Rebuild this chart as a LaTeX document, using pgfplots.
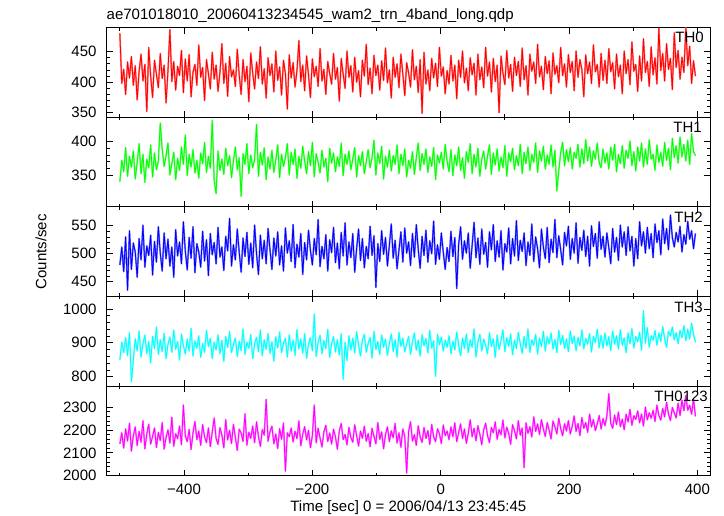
\documentclass[border=0pt]{standalone}
\usepackage{pgfplots}
\pgfplotsset{compat=1.18}
\usepackage{pgfplotstable}
\usepackage{fontspec}
\setmainfont{Liberation Sans}

\definecolor{cR}{RGB}{255,0,0}
\definecolor{cG}{RGB}{0,255,0}
\definecolor{cB}{RGB}{0,0,255}
\definecolor{cC}{RGB}{0,255,255}
\definecolor{cM}{RGB}{255,0,255}
\definecolor{lR}{RGB}{255,125,125}
\definecolor{lG}{RGB}{125,255,125}
\definecolor{lB}{RGB}{120,120,255}
\definecolor{lC}{RGB}{130,255,255}
\definecolor{lM}{RGB}{255,125,255}

\pgfplotstableread{
t a b c d e
-500 480 340 480 850 2140
-497 398 372 512 902 2188
-494 421 355 468 871 2121
-491 380 391 530 915 2205
-488 433 348 435 862 2152
-485 407 378 541 930 2230
-482 442 362 472 785 2108
-479 395 386 519 847 2176
-476 427 344 503 912 2214
-473 371 369 458 876 2132
-470 418 397 527 935 2195
-467 446 352 489 858 2147
-464 402 381 551 897 2241
-461 429 339 476 923 2118
-458 352 374 514 868 2183
-455 457 361 497 904 2226
-452 410 395 533 841 2139
-449 375 347 462 919 2172
-446 436 383 522 883 2209
-443 413 358 485 947 2124
-440 391 371 548 866 2190
-437 447 428 501 909 2154
-434 406 388 469 874 2233
-431 428 363 537 928 2117
-428 366 379 491 853 2168
-425 419 398 526 896 2201
-422 486 350 478 917 2143
-419 401 367 512 872 2257
-416 434 384 458 938 2129
-413 387 343 543 881 2184
-410 426 375 496 904 2162
-407 411 357 521 849 2218
-404 452 392 482 926 2136
-401 383 366 557 892 2310
-398 438 410 505 867 2175
-395 402 349 471 911 2149
-392 445 381 529 876 2203
-389 376 362 492 943 2115
-386 417 388 548 861 2187
-383 429 353 466 906 2238
-380 395 372 518 884 2158
-377 461 345 503 921 2196
-374 408 383 476 857 2133
-371 424 367 540 898 2224
-368 370 399 487 872 2171
-365 437 354 525 937 2145
-362 414 378 461 889 2209
-359 389 360 536 913 2128
-356 449 432 498 854 2192
-353 405 341 520 902 2253
-350 428 322 482 879 2163
-347 385 386 547 924 2137
-344 416 357 494 868 2211
-341 463 374 512 907 2178
-338 398 351 470 845 2122
-335 431 390 531 919 2246
-332 377 364 505 886 2157
-329 442 379 563 933 2199
-326 409 346 478 871 2141
-323 420 371 516 896 2225
-320 393 392 489 914 2168
-317 454 358 544 859 2111
-314 412 376 503 905 2204
-311 380 318 467 877 2187
-308 437 382 528 941 2150
-305 401 366 495 866 2272
-302 426 397 538 902 2134
-299 368 352 481 884 2191
-296 448 380 519 925 2163
-293 415 361 475 853 2218
-290 389 373 551 897 2145
-287 433 426 500 916 2236
-284 406 348 463 874 2172
-281 458 384 533 938 2129
-278 397 365 491 862 2202
-275 422 391 524 909 2178
-272 374 343 482 881 2335
-269 440 377 545 927 2151
-266 411 359 507 869 2194
-263 430 387 472 903 2217
-260 384 354 528 846 2140
-257 451 372 496 918 2183
-254 403 395 539 885 2119
-251 425 346 480 932 2206
-248 379 381 514 871 2160
-245 436 363 469 899 2231
-242 414 376 546 913 2020
-239 356 397 501 858 2188
-236 445 350 523 924 2171
-233 407 384 486 876 2209
-230 432 366 552 908 2148
-227 392 389 475 863 2195
-224 419 345 517 939 2162
-221 468 378 494 882 2240
-218 401 360 536 911 2131
-215 428 393 463 869 2182
-212 386 371 520 927 2215
-209 443 352 489 854 2157
-206 412 385 542 896 2199
-203 375 364 506 915 2123
-200 438 399 480 877 2176
-197 409 347 527 985 2310
-194 426 382 498 860 2144
-191 393 369 561 901 2208
-188 455 353 477 922 2165
-185 402 387 513 868 2126
-182 421 362 491 907 2193
-179 380 375 534 883 2221
-176 434 340 469 940 2150
-173 414 390 525 857 2187
-170 397 368 502 896 2139
-167 447 383 547 918 2204
-164 405 355 484 873 2170
-161 424 377 519 909 2116
-158 369 363 473 864 2197
-155 439 398 538 927 2229
-152 413 349 496 792 2158
-149 390 381 555 902 2181
-146 451 366 480 848 2135
-143 408 386 521 921 2212
-140 427 358 493 879 2168
-137 384 374 536 914 2147
-134 441 391 467 870 2223
-131 400 347 510 933 2176
-128 419 379 544 893 2130
-125 376 364 488 861 2196
-122 436 385 527 908 2164
-119 410 352 475 925 2217
-116 462 370 513 872 2151
-113 396 388 491 899 2185
-110 423 361 549 916 2127
-107 381 376 497 855 2208
-104 444 402 532 934 2173
-101 411 350 440 880 2140
-98 428 383 518 904 2233
-95 387 367 486 866 2159
-92 435 393 541 923 2192
-89 403 344 499 887 2118
-86 456 378 529 911 2181
-83 399 362 478 863 2214
-80 420 387 515 897 2150
-77 374 356 553 926 2197
-74 441 379 492 875 2166
-71 408 366 524 909 2229
-68 430 395 473 858 2143
-65 391 352 507 931 2188
-62 446 381 539 890 2125
-59 413 364 485 914 2205
-56 378 389 546 873 2172
-53 432 347 501 897 2012
-50 415 372 521 919 2194
-47 392 360 479 866 2237
-44 453 385 536 903 2152
-41 404 351 494 929 2180
-38 426 376 552 878 2133
-35 383 398 508 908 2219
-32 437 357 474 861 2170
-29 349 382 531 924 2146
-26 449 366 497 891 2211
-23 397 389 542 913 2163
-20 420 354 485 870 2198
-17 386 377 523 937 2137
-14 439 363 500 884 2225
-11 407 391 558 906 2171
-8 431 343 481 801 2149
-5 393 380 516 925 2206
-2 457 368 490 894 2184
1 410 384 537 917 2141
4 425 359 503 876 2222
7 381 396 472 908 2176
10 419 371 511 887 2196
13 397 355 486 921 2158
16 444 388 540 868 2214
19 402 349 495 905 2171
22 428 380 529 879 2232
25 373 364 438 932 2149
28 436 392 517 893 2190
31 408 357 548 862 2227
34 451 376 490 914 2163
37 399 345 523 883 2205
40 423 385 501 926 2142
43 386 369 537 871 2186
46 440 397 474 909 2245
49 412 352 515 887 2171
52 431 381 556 941 2208
55 379 362 493 858 2153
58 446 390 528 902 2219
61 404 348 481 925 2182
64 425 374 544 876 2136
67 391 386 499 911 2201
70 457 359 520 893 2230
73 410 378 476 868 2176
76 433 395 539 930 2145
79 384 351 507 889 2212
82 439 383 552 912 2188
85 401 365 486 857 2236
88 428 389 523 923 2160
91 350 356 494 881 2203
94 443 377 541 906 2179
97 415 361 471 938 2244
100 396 394 518 874 2166
103 452 348 503 915 2213
106 407 383 546 890 2185
109 429 370 482 926 2138
112 385 390 527 865 2224
115 441 358 496 908 2197
118 411 379 559 883 2162
121 434 364 488 931 2241
124 393 396 524 897 2178
127 456 352 504 869 2209
130 404 384 537 918 2035
133 427 367 479 884 2232
136 379 392 521 941 2186
139 446 357 497 872 2215
142 418 381 553 909 2170
145 433 369 486 893 2258
148 398 398 530 925 2194
151 462 354 509 867 2227
154 409 386 475 914 2181
157 426 371 544 889 2246
160 388 393 512 934 2205
163 442 359 491 876 2172
166 414 380 547 918 2233
169 435 366 484 897 2199
172 381 395 526 929 2161
175 448 362 502 882 2240
178 413 387 561 910 2214
181 427 326 493 871 2183
184 399 356 532 937 2252
187 457 384 507 895 2207
190 411 399 480 922 2175
193 430 364 538 884 2228
196 392 388 514 912 2196
199 445 370 549 874 2241
202 416 391 490 935 2183
205 434 359 527 898 2217
208 386 384 501 920 2262
211 451 375 555 877 2194
214 408 396 483 916 2229
217 437 362 529 891 2176
220 421 389 506 938 2255
223 376 367 542 882 2208
226 445 403 495 913 2233
229 414 371 531 896 2190
232 433 392 478 927 2270
235 398 363 550 873 2214
238 461 386 513 919 2246
241 417 374 536 901 2198
244 429 398 492 940 2227
247 392 368 557 885 2264
250 447 361 508 922 2205
253 403 389 531 884 2251
256 436 368 494 929 2219
259 398 383 537 891 2262
262 455 359 511 918 2360
265 417 392 482 877 2230
268 432 372 545 935 2208
271 389 396 503 896 2266
274 446 355 529 921 2224
277 409 381 488 882 2279
280 428 367 551 938 2215
283 381 394 512 893 2248
286 451 360 539 915 2202
289 414 387 497 871 2270
292 437 375 548 929 2236
295 396 401 505 897 2291
298 466 364 531 942 2221
301 418 385 478 885 2263
304 429 356 527 919 2247
307 385 392 491 903 2284
310 443 371 557 931 2232
313 402 398 514 878 2270
316 471 362 539 995 2218
319 416 389 501 899 2301
322 434 366 547 945 2245
325 393 403 509 887 2276
328 458 374 536 921 2252
331 412 381 493 908 2287
334 440 357 553 936 2238
337 397 395 520 893 2310
340 488 369 541 929 2263
343 419 384 498 904 2244
346 447 363 562 948 2295
349 402 399 518 912 2258
352 463 372 545 887 2322
355 421 390 507 934 2270
358 439 358 569 920 2242
361 388 405 529 947 2299
364 481 376 512 909 2276
367 424 394 538 930 2253
370 452 368 521 898 2318
373 405 407 549 937 2264
376 441 377 503 915 2331
379 416 396 534 951 2285
382 489 371 517 906 2352
385 427 402 558 940 2287
388 459 366 526 912 2309
391 398 412 541 958 2270
394 435 385 509 924 2337
397 410 379 536 902 2260
}\data

\pgfplotsset{
  panel/.style={
    scale only axis, width=603.3pt, height=89.6pt,
    anchor=south west,
    xmin=-520.5, xmax=419.7,
    xtick={-400,-200,0,200,400},
    minor xtick={-500,-300,-100,100,300},
    xticklabels={},
    minor y tick num=4,
    tick align=inside,
    major tick length=6pt, minor tick length=3pt,
    axis line style={line width=1pt},
    tick style={line width=0.8pt, black},
    yticklabel style={inner sep=0pt, xshift=-10pt},
    xticklabel style={inner sep=0pt, yshift=-8.3pt},
    /pgf/number format/assume math mode=true,
    /pgf/number format/1000 sep={},
  },
  halo/.style={color=#1, line width=1.7pt, mark=none, line join=round, forget plot},
  dat/.style={color=#1, line width=0.8pt, mark=none, line join=round},
}
\tikzset{lab/.style={anchor=north east, inner sep=0pt}}

\begin{document}
\fontsize{15}{18}\selectfont
\begin{tikzpicture}[font=\fontsize{15}{18}\selectfont]
\path[use as bounding box] (0pt,0pt) rectangle (724pt,516pt);

% TH0
\begin{axis}[panel, at={(106.7pt,398.7pt)}, ymin=342.5, ymax=489.3, ytick={350,400,450}]
\addplot[halo=lR] table[x=t,y=a] {\data};
\addplot[dat=cR] table[x=t,y=a] {\data};
\node[lab, xshift=-6pt, yshift=-4pt] at (rel axis cs:1,1) {TH0};
\end{axis}

% TH1
\begin{axis}[panel, at={(106.7pt,309.1pt)}, ymin=302.1, ymax=436.6, ytick={350,400}]
\addplot[halo=lG] table[x=t,y=b] {\data};
\addplot[dat=cG] table[x=t,y=b] {\data};
\node[lab, xshift=-8pt, yshift=-5pt] at (rel axis cs:1,1) {TH1};
\end{axis}

% TH2
\begin{axis}[panel, at={(106.7pt,219.5pt)}, ymin=423.6, ymax=583.6, ytick={450,500,550}]
\addplot[halo=lB] table[x=t,y=c] {\data};
\addplot[dat=cB] table[x=t,y=c] {\data};
\node[lab, xshift=-7pt, yshift=-5pt] at (rel axis cs:1,1) {TH2};
\end{axis}

% TH3
\begin{axis}[panel, at={(106.7pt,129.9pt)}, ymin=772.2, ymax=1036.9, ytick={800,900,1000}]
\addplot[halo=lC] table[x=t,y=d] {\data};
\addplot[dat=cC] table[x=t,y=d] {\data};
\node[lab, xshift=-7pt, yshift=-5pt] at (rel axis cs:1,1) {TH3};
\end{axis}

% TH0123
\begin{axis}[panel, at={(106.7pt,40.3pt)}, ymin=2000, ymax=2393, ytick={2000,2100,2200,2300},
  xticklabels={−400,−200,0,200,400}]
\addplot[halo=lM] table[x=t,y=e] {\data};
\addplot[dat=cM] table[x=t,y=e] {\data};
\node[lab, xshift=-2pt, yshift=-5pt] at (rel axis cs:1,1) {TH0123};
\end{axis}

\node[anchor=base west, inner sep=0pt] at (106.5pt,496.7pt) {ae701018010\_20060413234545\_wam2\_trn\_4band\_long.qdp};
\node[rotate=90, inner sep=0pt] at (41pt,264.3pt) {Counts/sec};
\node[anchor=base, inner sep=0pt] at (408.3pt,4.5pt) {Time [sec] 0 = 2006/04/13 23:45:45};
\end{tikzpicture}
\end{document}
